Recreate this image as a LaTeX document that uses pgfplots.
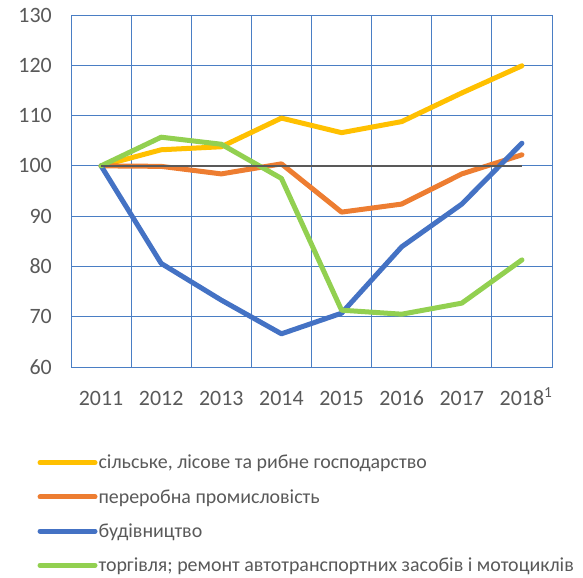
\documentclass[border=0pt]{standalone}
\usepackage{pgfplots}
\pgfplotsset{compat=1.18}
\usepackage{fontspec}
\setmainfont{Carlito}
\definecolor{cyel}{HTML}{FFC000}
\definecolor{corg}{HTML}{ED7D31}
\definecolor{cblu}{HTML}{4472C4}
\definecolor{cgrn}{HTML}{92D050}
\definecolor{cgrid}{HTML}{4A7EC4}
\definecolor{ctxt}{HTML}{595959}
\begin{document}
\begin{tikzpicture}
\path[use as bounding box] (0,0) rectangle (583bp,578bp);
\begin{axis}[
  at={(71bp,211bp)}, anchor=south west,
  scale only axis, width=481bp, height=352bp,
  xmin=-0.5, xmax=7.5, ymin=60, ymax=130,
  xtick={0,...,7},
  xticklabels={2011,2012,2013,2014,2015,2016,2017,2018\rlap{\textsuperscript{1}}},
  minor xtick={-0.5,0.5,...,7.5},
  ytick={60,70,...,130},
  major tick length=0pt, minor tick length=0pt,
  ymajorgrids, xminorgrids,
  grid style={cgrid, line width=1bp},
  axis line style={cgrid, line width=1bp},
  /pgf/number format/assume math mode=true,
  tick label style={font=\fontsize{22}{24}\selectfont, text=ctxt},
  yticklabel style={inner sep=0pt, xshift=-19bp},
  xticklabel style={inner sep=0pt, anchor=base, yshift=-38bp},
  legend cell align=left,
  legend style={draw=none, fill=none, at={(-0.07,-0.247)}, anchor=north west,
    font=\fontsize{20}{24}\selectfont, text=ctxt, row sep=17bp, inner sep=0pt,
    nodes={inner sep=1bp}},
  legend image code/.code={\draw[#1, line cap=round] (0bp,0bp) -- (55bp,0bp);},
  every axis plot/.append style={line width=5bp, line join=round, line cap=round},
]
\addplot[cyel] coordinates {(0,100) (1,103.2) (2,103.8) (3,109.5) (4,106.6) (5,108.8) (6,114.5) (7,119.9)};
\addplot[corg] coordinates {(0,100) (1,99.9) (2,98.4) (3,100.4) (4,90.8) (5,92.4) (6,98.4) (7,102.2)};
\addplot[cblu] coordinates {(0,100) (1,80.6) (2,73.3) (3,66.6) (4,70.7) (5,83.9) (6,92.4) (7,104.5)};
\addplot[cgrn] coordinates {(0,100) (1,105.7) (2,104.3) (3,97.5) (4,71.3) (5,70.5) (6,72.7) (7,81.3)};
\addplot[ctxt, line width=2bp, line cap=butt, forget plot] coordinates {(0,100) (7,100)};
\legend{{сільське, лісове та рибне господарство}, {переробна промисловість}, {будівництво}, {торгівля; ремонт автотранспортних засобів і мотоциклів}}
\end{axis}
\end{tikzpicture}
\end{document}
